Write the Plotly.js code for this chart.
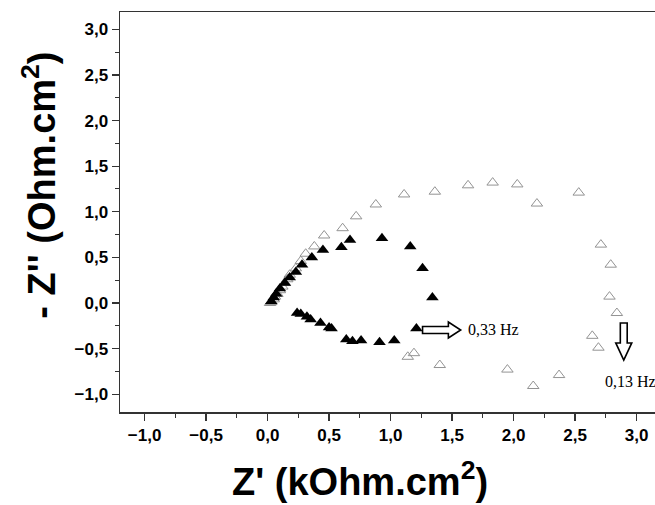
<!DOCTYPE html>
<html>
<head>
<meta charset="utf-8">
<script src="https://cdn.plot.ly/plotly-3.0.1.min.js"></script>
<style>html,body{margin:0;padding:0;background:#fff;}#chart{width:655px;height:505px;}</style>
</head>
<body>
<div id="chart"></div>
<script>
// Open triangles (gray outline) – Z' (kOhm.cm2), -Z'' (Ohm.cm2)
const openX = [0.02, 0.03, 0.05, 0.06, 0.08, 0.10, 0.12, 0.14, 0.16, 0.18, 0.23, 0.27, 0.31, 0.38, 0.46,
               0.61, 0.72, 0.88, 1.11, 1.36, 1.63, 1.83, 2.03, 2.19, 2.53, 2.71, 2.79, 2.78, 2.84,
               2.64, 2.69, 2.37, 2.16, 1.95, 1.40, 1.19, 1.14];
const openY = [0.00, 0.01, 0.04, 0.07, 0.10, 0.14, 0.18, 0.22, 0.26, 0.31, 0.38, 0.46, 0.54, 0.62, 0.74,
               0.82, 0.95, 1.08, 1.19, 1.22, 1.29, 1.32, 1.30, 1.09, 1.21, 0.64, 0.42, 0.07, -0.11,
               -0.36, -0.49, -0.79, -0.91, -0.73, -0.68, -0.55, -0.59];
// Filled triangles (black)
const fillX = [0.03, 0.05, 0.07, 0.10, 0.14, 0.18, 0.23, 0.28, 0.36, 0.45, 0.60, 0.67, 0.93, 1.16, 1.26, 1.34,
               1.21, 1.03, 0.91, 0.76, 0.69, 0.64, 0.52, 0.50, 0.43, 0.35, 0.32, 0.27, 0.24];
const fillY = [0.02, 0.06, 0.10, 0.16, 0.22, 0.28, 0.34, 0.42, 0.50, 0.58, 0.61, 0.69, 0.71, 0.62, 0.38, 0.06,
               -0.28, -0.41, -0.43, -0.41, -0.42, -0.40, -0.28, -0.27, -0.22, -0.18, -0.15, -0.12, -0.11];
// Texts
const freqLabels = ["0,33 Hz", "0,13 Hz"];
const xTitle = "Z' (kOhm.cm<sup>2</sup>)";
const yTitle = "- Z'' (Ohm.cm<sup>2</sup>)";
const xTicks = [-1.0, -0.5, 0.0, 0.5, 1.0, 1.5, 2.0, 2.5, 3.0];
const yTicks = [-1.0, -0.5, 0.0, 0.5, 1.0, 1.5, 2.0, 2.5, 3.0];

const traces = [
  {x: openX, y: openY, type: 'scatter', mode: 'markers', hoverinfo: 'x+y',
   marker: {symbol: 'triangle-up-open', size: 10, color: '#939393', line: {width: 1, color: '#939393'}}},
  {x: fillX, y: fillY, type: 'scatter', mode: 'markers', hoverinfo: 'x+y',
   marker: {symbol: 'triangle-up', size: 11, color: '#000000', line: {width: 0}}}
];

// hollow arrows (drawn as outline paths in data coordinates)
function rightArrow(x0, x1, xh, yc, hs, hh) {
  return `M${x0},${yc+hs} L${xh},${yc+hs} L${xh},${yc+hh} L${x1},${yc} L${xh},${yc-hh} L${xh},${yc-hs} L${x0},${yc-hs} Z`;
}
function downArrow(xc, y0, yh, y1, ws, wh) {
  return `M${xc-ws},${y0} L${xc+ws},${y0} L${xc+ws},${yh} L${xc+wh},${yh} L${xc},${y1} L${xc-wh},${yh} L${xc-ws},${yh} Z`;
}

const tickFont = {family: 'Liberation Sans, Arial, sans-serif', size: 17, color: '#000', weight: 'bold'};
const titleFont = {family: 'Liberation Sans, Arial, sans-serif', size: 38, color: '#000', weight: 'bold'};
const layout = {
  width: 655, height: 505,
  margin: {l: 120, r: 0, t: 12, b: 93, pad: 0},
  paper_bgcolor: '#fff', plot_bgcolor: '#fff',
  separators: ',.',
  showlegend: false,
  font: {family: 'Liberation Sans, Arial, sans-serif', size: 15, color: '#000'},
  xaxis: {
    range: [-1.2, 3.15], tickvals: xTicks, tickformat: '.1f',
    showgrid: false, zeroline: false,
    showline: true, linecolor: '#333', linewidth: 1.5, mirror: true,
    ticks: 'outside', ticklen: 7, tickwidth: 1.2, tickcolor: '#333',
    minor: {dtick: 0.25, tick0: 0, ticks: 'outside', ticklen: 4, tickwidth: 1, tickcolor: '#333'},
    tickfont: tickFont
  },
  yaxis: {
    range: [-1.195, 3.19], tickvals: yTicks, tickformat: '.1f',
    showgrid: false, zeroline: false,
    showline: true, linecolor: '#333', linewidth: 1.5, mirror: false,
    ticks: 'outside', ticklen: 7, tickwidth: 1.2, tickcolor: '#333',
    minor: {dtick: 0.25, tick0: 0, ticks: 'outside', ticklen: 4, tickwidth: 1, tickcolor: '#333'},
    tickfont: tickFont
  },
  shapes: [
    {type: 'path', xref: 'x', yref: 'y', path: rightArrow(1.26, 1.57, 1.47, -0.296, 0.038, 0.088),
     line: {color: '#000', width: 1.6}, fillcolor: 'rgba(0,0,0,0)'},
    {type: 'path', xref: 'x', yref: 'y', path: downArrow(2.896, -0.219, -0.438, -0.625, 0.028, 0.065),
     line: {color: '#000', width: 1.6}, fillcolor: 'rgba(0,0,0,0)'}
  ],
  annotations: [
    {x: 1.61, y: -0.296, xref: 'x', yref: 'y', text: freqLabels[0], showarrow: false, xanchor: 'left',
     font: {family: 'Liberation Serif, Times New Roman, serif', size: 16, color: '#000'}},
    {x: 2.95, y: -0.86, xref: 'x', yref: 'y', text: freqLabels[1], showarrow: false, xanchor: 'center',
     font: {family: 'Liberation Serif, Times New Roman, serif', size: 16, color: '#000'}},
    {x: 0.449, y: -0.167, xref: 'paper', yref: 'paper', text: xTitle, showarrow: false,
     xanchor: 'center', yanchor: 'middle', font: titleFont},
    {x: -0.152, y: 0.5675, xref: 'paper', yref: 'paper', text: yTitle, showarrow: false, textangle: -90,
     xanchor: 'center', yanchor: 'middle', font: titleFont}
  ]
};

Plotly.newPlot('chart', traces, layout, {displayModeBar: false, staticPlot: true});
</script>
</body>
</html>
